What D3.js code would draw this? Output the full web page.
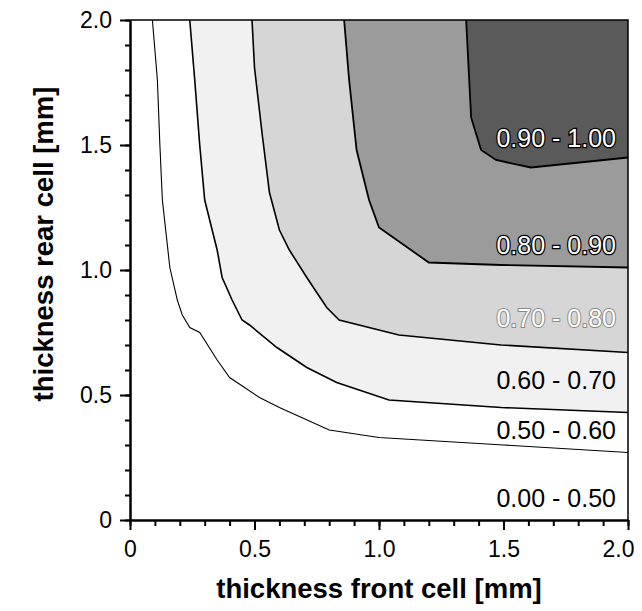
<!DOCTYPE html>
<html>
<head>
<meta charset="utf-8">
<script src="https://cdn.jsdelivr.net/npm/d3@7"></script>
<style>
  body { margin: 0; background: #fff; }
  svg text { font-family: "Liberation Sans", Arial, sans-serif; }
</style>
</head>
<body>
<div id="chart"></div>
<script>
// contour levels and the lines between the bands (front cell x, rear cell y, in mm)
const levels = [0.5, 0.6, 0.7, 0.8, 0.9];
const c50x = [0.09, 0.11, 0.12, 0.13, 0.16, 0.19, 0.21, 0.24, 0.28, 0.35, 0.40, 0.52, 0.60, 0.80, 1.00, 1.50, 2.00];
const c50y = [2.00, 1.76, 1.50, 1.28, 1.01, 0.88, 0.82, 0.77, 0.75, 0.64, 0.57, 0.49, 0.45, 0.36, 0.33, 0.30, 0.27];
const c60x = [0.24, 0.26, 0.28, 0.30, 0.35, 0.37, 0.41, 0.45, 0.48, 0.59, 0.71, 0.83, 1.04, 1.49, 2.00];
const c60y = [2.00, 1.76, 1.50, 1.28, 1.08, 0.97, 0.88, 0.80, 0.78, 0.69, 0.61, 0.55, 0.48, 0.45, 0.43];
const c70x = [0.49, 0.50, 0.53, 0.56, 0.60, 0.64, 0.71, 0.79, 0.84, 1.08, 1.49, 2.00];
const c70y = [2.00, 1.81, 1.55, 1.31, 1.16, 1.08, 0.97, 0.85, 0.80, 0.74, 0.70, 0.67];
const c80x = [0.86, 0.88, 0.91, 0.96, 1.00, 1.10, 1.20, 1.49, 2.00];
const c80y = [2.00, 1.76, 1.48, 1.28, 1.17, 1.10, 1.03, 1.02, 1.01];
const c90x = [1.35, 1.37, 1.41, 1.47, 1.61, 2.00];
const c90y = [2.00, 1.61, 1.48, 1.44, 1.41, 1.45];

const bandLabels = ["0.90 - 1.00", "0.80 - 0.90", "0.70 - 0.80", "0.60 - 0.70", "0.50 - 0.60", "0.00 - 0.50"];
const bandLabelY = [1.53, 1.10, 0.81, 0.56, 0.36, 0.09];

const xTicks = [0, 0.5, 1.0, 1.5, 2.0];
const yTicks = [0, 0.5, 1.0, 1.5, 2.0];
const minorTicks = d3.range(0, 21).map(i => i / 10);

function drawContourMap() {
    const width = 642, height = 611;
    const margin = { top: 20, right: 14, bottom: 91, left: 130 };
    const w = width - margin.left - margin.right,
        h = height - margin.top - margin.bottom;

    const svg = d3.select("#chart").append("svg")
        .attr("width", width)
        .attr("height", height)
        .append("g")
        .attr("transform", `translate(${margin.left},${margin.top})`);

    const x = d3.scaleLinear().domain([0, 2]).range([0, w]);
    const y = d3.scaleLinear().domain([0, 2]).range([h, 0]);

    const contours = [
        { level: 0.5, xs: c50x, ys: c50y, fill: "#ffffff", sw: 1.1 },
        { level: 0.6, xs: c60x, ys: c60y, fill: "#f1f1f1", sw: 1.6 },
        { level: 0.7, xs: c70x, ys: c70y, fill: "#d6d6d6", sw: 1.6 },
        { level: 0.8, xs: c80x, ys: c80y, fill: "#9b9b9b", sw: 1.8 },
        { level: 0.9, xs: c90x, ys: c90y, fill: "#5a5a5a", sw: 1.8 }
    ];
    contours.forEach(c => { c.pts = c.xs.map((v, i) => [v, c.ys[i]]); });

    const line = d3.line().x(d => x(d[0])).y(d => y(d[1]));

    // each band = area from the contour line up to the top-right corner
    svg.append("g").selectAll("path.band")
        .data(contours)
        .enter().append("path")
        .attr("class", "band")
        .attr("d", c => line(c.pts.concat([[2, 2]])) + "Z")
        .attr("fill", c => c.fill);

    svg.append("g").selectAll("path.iso")
        .data(contours)
        .enter().append("path")
        .attr("class", "iso")
        .attr("d", c => line(c.pts))
        .attr("fill", "none")
        .attr("stroke", "#000")
        .attr("stroke-width", c => c.sw);

    // frame: top and right
    svg.append("path")
        .attr("d", `M0,0H${w}V${h}`)
        .attr("fill", "none")
        .attr("stroke", "#000")
        .attr("stroke-width", 1.5);

    // band labels
    svg.append("g").selectAll("text")
        .data(bandLabels)
        .enter().append("text")
        .attr("x", x(2) - 12)
        .attr("y", (d, i) => y(bandLabelY[i]))
        .attr("dy", "0.36em")
        .attr("text-anchor", "end")
        .style("font-size", "25px")
        .style("paint-order", "stroke")
        .attr("fill", (d, i) => i < 3 ? "#fff" : "#000")
        .attr("stroke", (d, i) => i < 2 ? "#000" : (i === 2 ? "#8a8a8a" : "none"))
        .attr("stroke-width", (d, i) => i < 2 ? 2.5 : 2)
        .text(d => d);

    const fmt = d => d === 0 ? "0" : d3.format(".1f")(d);

    // x axis
    svg.append("g")
        .attr("transform", `translate(0,${h})`)
        .call(d3.axisBottom(x).tickValues(minorTicks).tickSize(6).tickFormat(""))
        .call(g => g.select(".domain").remove())
        .call(g => g.selectAll("line").attr("stroke-width", 2));
    svg.append("g")
        .attr("transform", `translate(0,${h})`)
        .call(d3.axisBottom(x).tickValues(xTicks).tickSize(10).tickSizeOuter(0).tickPadding(11).tickFormat(fmt))
        .call(g => g.select(".domain").attr("stroke-width", 2.5))
        .call(g => g.selectAll("line").attr("stroke-width", 2))
        .call(g => g.selectAll("text").style("font-size", "23px").attr("fill", "#000"))
        // last label sits just inside the page edge, as in the original
        .call(g => g.selectAll("text").filter(d => d === 2).attr("text-anchor", "end").attr("dx", 6));

    // y axis
    svg.append("g")
        .call(d3.axisLeft(y).tickValues(minorTicks).tickSize(5).tickFormat(""))
        .call(g => g.select(".domain").remove())
        .call(g => g.selectAll("line").attr("stroke-width", 2));
    svg.append("g")
        .call(d3.axisLeft(y).tickValues(yTicks).tickSize(10).tickSizeOuter(0).tickPadding(8).tickFormat(fmt))
        .call(g => g.select(".domain").attr("stroke-width", 2.5))
        .call(g => g.selectAll("line").attr("stroke-width", 2))
        .call(g => g.selectAll("text").style("font-size", "23px").attr("fill", "#000"));

    // axis titles
    svg.append("text")
        .attr("x", w / 2)
        .attr("y", h + 78)
        .attr("text-anchor", "middle")
        .style("font-size", "27.5px")
        .style("font-weight", "bold")
        .text("thickness front cell [mm]");

    svg.append("text")
        .attr("transform", `translate(${53 - margin.left},${244 - margin.top}) rotate(-90)`)
        .attr("text-anchor", "middle")
        .style("font-size", "27.5px")
        .style("font-weight", "bold")
        .text("thickness rear cell [mm]");
}

drawContourMap();
</script>
</body>
</html>
